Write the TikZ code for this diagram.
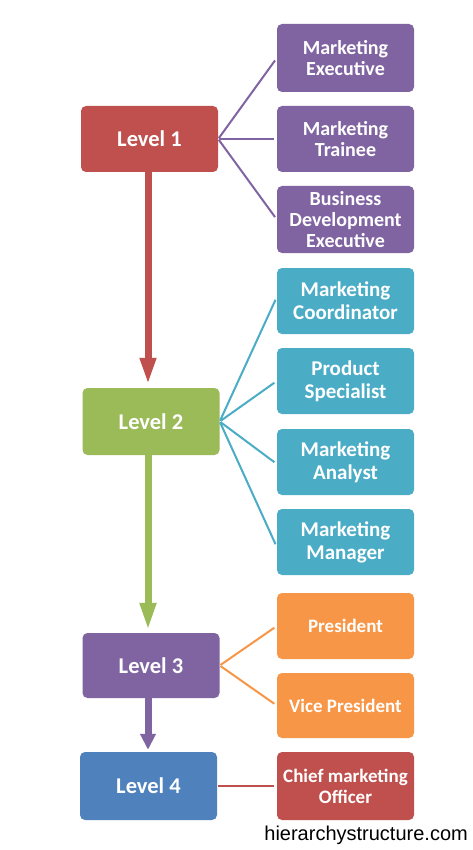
\documentclass[tikz,border=0pt]{standalone}
\usepackage{fontspec}
\setmainfont{Carlito}
\newfontfamily\wmfont{Liberation Sans}
\usetikzlibrary{arrows.meta}
\definecolor{ored}{HTML}{C0504D}
\definecolor{ogreen}{HTML}{9BBB59}
\definecolor{opurple}{HTML}{8064A2}
\definecolor{oaqua}{HTML}{4BACC6}
\definecolor{oorange}{HTML}{F79646}
\definecolor{oblue}{HTML}{4F81BD}
\tikzset{
  box/.style={rectangle, rounded corners=5pt, draw=none, text=white, align=center,
    font=\bfseries\fontsize{19}{21}\selectfont, inner sep=0pt},
  lvl/.style={box, minimum width=137pt, font=\bfseries\fontsize{22.5}{25}\selectfont},
  sub/.style={box, minimum width=137pt},
  purp/.style={sub, fill=opurple, font=\bfseries\fontsize{20}{21}\selectfont},
  aqua/.style={sub, fill=oaqua, minimum height=66pt, font=\bfseries\fontsize{21}{23}\selectfont},
  conn/.style={line width=2pt, shorten >=3pt, shorten <=1pt},
  bigarrow/.style={line width=7pt, -{Triangle[width=15pt,length=27pt]}, shorten >=3pt},
}
\begin{document}
\begin{tikzpicture}[x=1pt,y=-1pt]
\fill[white] (0,0) rectangle (473,850);
\useasboundingbox (0,0) rectangle (473,850);

% levels
\node[lvl, fill=ored, minimum height=66pt] (L1) at (149.5,139) {Level 1};
\node[lvl, fill=ogreen, minimum height=67pt] (L2) at (151,421.5) {Level 2};
\node[lvl, fill=opurple, minimum height=65pt] (L3) at (151,665.5) {Level 3};
\node[lvl, fill=oblue, minimum height=68pt] (L4) at (148.5,786) {Level 4};

% level 1 roles
\node[purp, minimum height=68pt] (ME) at (345.5,58) {Marketing\\Executive};
\node[purp, minimum height=66pt] (MT) at (345.5,139) {Marketing\\Trainee};
\node[purp, minimum height=67pt] (BDE) at (345.5,219.5) {Business\\Development\\Executive};

% level 2 roles
\node[aqua] (MC) at (345.5,301) {Marketing\\Coordinator};
\node[aqua] (PS) at (345.5,381) {Product\\Specialist};
\node[aqua] (MA) at (345.5,462) {Marketing\\Analyst};
\node[aqua] (MM) at (345.5,542) {Marketing\\Manager};

% level 3 roles
\node[sub, fill=oorange, minimum height=66pt] (PR) at (345.5,626) {President};
\node[sub, fill=oorange, minimum height=65pt] (VP) at (345.5,705.5) {Vice President};

% level 4 role
\node[sub, fill=ored, minimum height=68pt] (CMO) at (345.5,786) {Chief marketing\\Officer};

% connectors
\draw[conn, opurple] (L1.east) -- (ME.west);
\draw[conn, opurple] (L1.east) -- (MT.west);
\draw[conn, opurple] (L1.east) -- (BDE.west);
\draw[conn, oaqua] (L2.east) -- ([yshift=4pt]MC.west);
\draw[conn, oaqua] (L2.east) -- (PS.west);
\draw[conn, oaqua] (L2.east) -- ([yshift=-2pt]MA.west);
\draw[conn, oaqua] (L2.east) -- ([yshift=-5pt]MM.west);
\draw[conn, oorange] (L3.east) -- (PR.west);
\draw[conn, oorange] (L3.east) -- (VP.west);
\draw[conn, ored] (L4.east) -- (CMO.west);

% arrows
\coordinate (A1) at (148,172);
\coordinate (A2) at (148,455);
\coordinate (A3) at (148,698);
\draw[bigarrow, ored] (A1) -- (A1 |- L2.north);
\draw[bigarrow, ogreen, shorten >=2pt, -{Triangle[width=15pt,length=28pt]}] (A2) -- (A2 |- L3.north);
\draw[bigarrow, opurple, shorten >=2pt, -{Triangle[width=15pt,length=16pt]}] (A3) -- (A3 |- L4.north);

% watermark
\node[anchor=base east, inner sep=0pt, font=\wmfont\fontsize{20}{24}\selectfont] (WM) at (468,840) {hierarchystructure.com};
\end{tikzpicture}
\end{document}
